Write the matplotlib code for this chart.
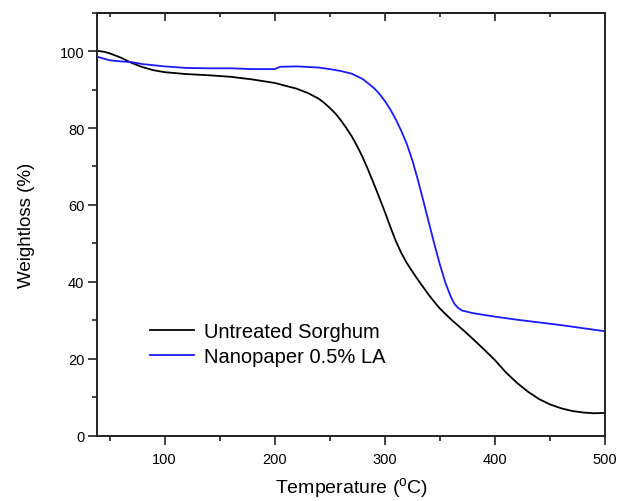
import matplotlib
matplotlib.use("Agg")
import matplotlib.pyplot as plt
from matplotlib.ticker import MultipleLocator

plt.rcParams['font.family'] = ['Liberation Sans', 'DejaVu Sans']
plt.rcParams['mathtext.fontset'] = 'custom'
plt.rcParams['mathtext.rm'] = 'Liberation Sans'

# Untreated sorghum (black)
temp_u = [40, 45, 50, 60, 70, 80, 90, 100, 120, 140, 160, 180, 200, 220, 230,
          240, 245, 250, 255, 260, 265, 270, 275, 280, 285, 290, 295, 300, 305,
          310, 315, 320, 325, 330, 335, 340, 345, 350, 360, 370, 380, 390, 400,
          410, 420, 430, 440, 450, 460, 470, 480, 490, 500]
wt_u = [100.0, 99.8, 99.4, 98.3, 96.9, 95.8, 95.0, 94.5, 94.0, 93.7, 93.3, 92.6,
        91.7, 90.2, 89.1, 87.6, 86.5, 85.2, 83.8, 82.0, 80.0, 77.8, 75.2, 72.3,
        69.0, 65.5, 61.9, 58.2, 54.3, 50.6, 47.5, 44.9, 42.7, 40.6, 38.6, 36.6,
        34.8, 33.1, 30.3, 27.8, 25.2, 22.5, 19.7, 16.5, 13.8, 11.5, 9.6, 8.2,
        7.2, 6.5, 6.1, 5.9, 6.0]

# Nanopaper 0.5% LA (blue)
temp_n = [40, 50, 60, 70, 80, 90, 100, 120, 140, 160, 180, 200, 205, 220, 240,
          250, 260, 270, 280, 290, 295, 300, 305, 310, 315, 320, 325, 330, 335,
          340, 345, 350, 355, 360, 363, 366, 370, 380, 400, 420, 440, 460, 480,
          500]
wt_n = [98.4, 97.6, 97.3, 97.1, 96.6, 96.3, 96.0, 95.6, 95.5, 95.5, 95.3, 95.3,
        95.9, 96.0, 95.7, 95.3, 94.8, 94.1, 92.7, 90.4, 88.9, 87.0, 84.8, 82.2,
        79.2, 75.8, 71.6, 66.5, 61.0, 55.4, 49.8, 44.5, 39.8, 36.1, 34.4, 33.4,
        32.6, 31.9, 31.0, 30.2, 29.5, 28.8, 28.0, 27.2]

fig = plt.figure(figsize=(6.19, 5.02), dpi=100)
ax = fig.add_axes([0.1575, 0.1295, 0.82, 0.8436])

ax.plot(temp_u, wt_u, color='black', lw=1.3, label='Untreated Sorghum')
ax.plot(temp_n, wt_n, color='#1a1aff', lw=1.3, label='Nanopaper 0.5% LA')

ax.set_xlim(39, 500)
ax.set_ylim(0, 110)
ax.xaxis.set_major_locator(MultipleLocator(100))
ax.xaxis.set_minor_locator(MultipleLocator(50))
ax.yaxis.set_minor_locator(MultipleLocator(10))
ax.set_yticks([0, 20, 40, 60, 80, 100])

for s in ax.spines.values():
    s.set_linewidth(1.4)
    s.set_color('#222222')

ax.tick_params(axis='both', which='major', direction='out', length=6.5,
               width=1.2, labelsize=10.5, color='#222222')
ax.tick_params(axis='both', which='minor', direction='out', length=3.5,
               width=1.2, color='#222222')
ax.tick_params(axis='x', which='major', pad=5)
ax.tick_params(axis='y', which='major', pad=3)

top = ax.secondary_xaxis('top')
top.xaxis.set_major_locator(MultipleLocator(100))
top.xaxis.set_minor_locator(MultipleLocator(50))
top.tick_params(which='major', direction='in', length=6, width=1.2, labeltop=False, color='#222222')
top.tick_params(which='minor', direction='in', length=3, width=1.2, color='#222222')
top.spines['top'].set_linewidth(1.4)
top.spines['top'].set_color('#222222')

ax.set_xlabel(r'Temperature ($^{\mathrm{o}}$C)', fontsize=14, labelpad=7)
ax.set_ylabel('Weightloss (%)', fontsize=13.5, labelpad=18)

ax.legend(loc='center left', bbox_to_anchor=(0.103, 0.217), frameon=False,
          fontsize=14.5, borderpad=0, borderaxespad=0, handlelength=2.2,
          handletextpad=0.5, labelspacing=0.3)

fig.savefig('out.png', dpi=100)
